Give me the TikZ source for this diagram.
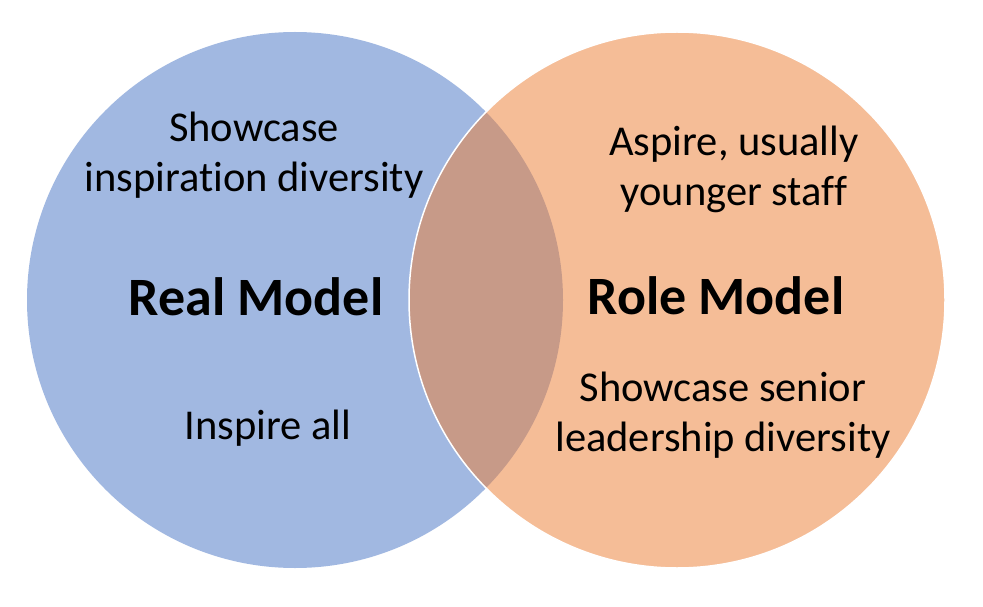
\documentclass[tikz,border=0pt]{standalone}
\usepackage{fontspec}
\setmainfont[Ligatures=NoCommon]{Carlito}
\definecolor{realblue}{HTML}{4472C4}
\definecolor{roleorange}{HTML}{ED7D31}
\begin{document}
\begin{tikzpicture}[x=1pt,y=-1pt,
  bodytext/.style={inner sep=0pt,anchor=base,font=\fontsize{42.5}{50}\selectfont},
  titletext/.style={inner sep=0pt,anchor=base,font=\fontsize{54}{64}\selectfont\bfseries}]
\useasboundingbox (0,0) rectangle (983,607);
\fill[white] (0,0) rectangle (983,607);
\fill[realblue,fill opacity=0.5] (295,300) circle[radius=268];
\filldraw[fill=roleorange,fill opacity=0.5,draw=white,line width=1.5pt] (677,300) circle[radius=268];
\node[bodytext] (showcaseinsp) at (254,191) {\begin{tabular}[b]{@{}c@{}}Showcase\\inspiration diversity\end{tabular}};
\node[titletext] (real) at (256,315) {Real Model};
\node[bodytext] (inspire) at (268,439) {Inspire all};
\node[bodytext] (aspire) at (734,205) {\begin{tabular}[b]{@{}c@{}}Aspire, usually\\younger staff\end{tabular}};
\node[titletext] (role) at (716,314) {Role Model};
\node[bodytext] (senior) at (723,451) {\begin{tabular}[b]{@{}c@{}}Showcase senior\\leadership diversity\end{tabular}};
\end{tikzpicture}
\end{document}
